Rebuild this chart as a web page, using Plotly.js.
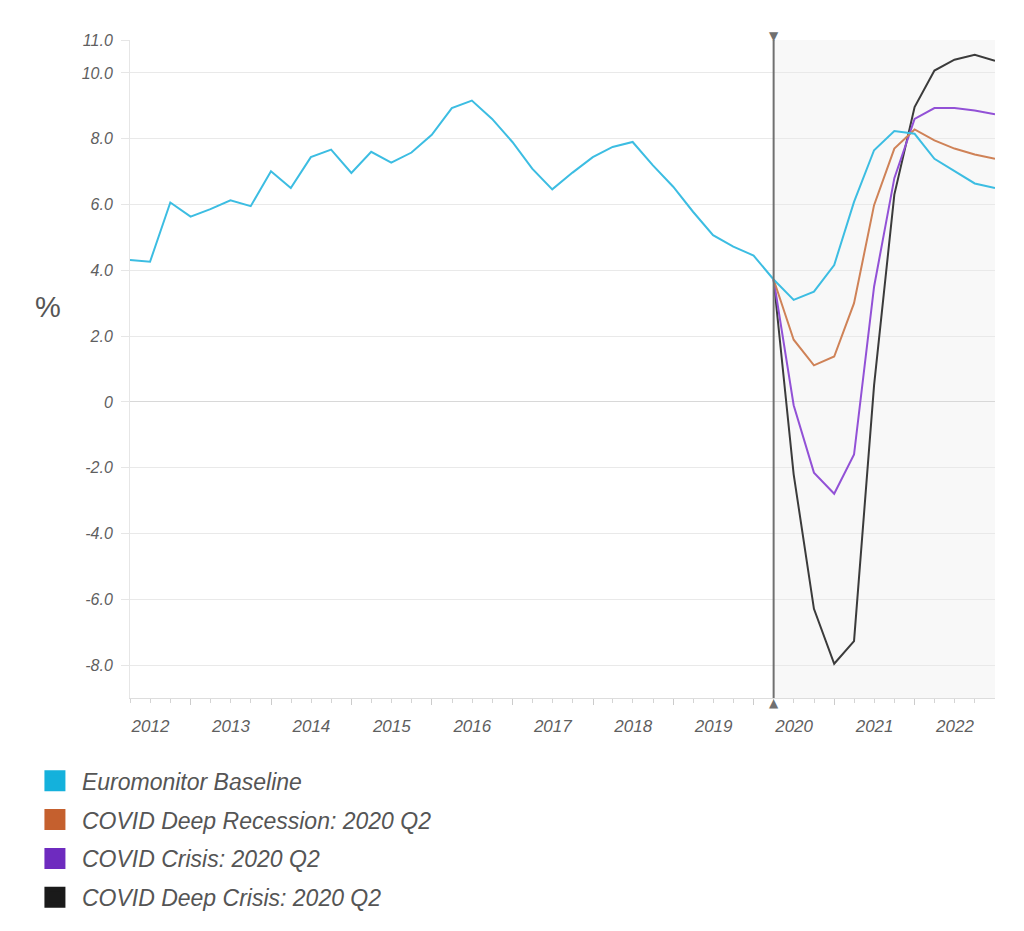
<!DOCTYPE html>
<html>
<head>
<meta charset="utf-8">
<script src="https://cdn.plot.ly/plotly-3.0.1.min.js"></script>
<style>
  html, body { margin: 0; padding: 0; background: #ffffff; }
  #chart { width: 1024px; height: 931px; }
</style>
</head>
<body>
<div id="chart"></div>
<script>
// Quarter-end dates, 2012 Q1 .. 2022 Q4
const quarters = [
  '2012-03-31','2012-06-30','2012-09-30','2012-12-31',
  '2013-03-31','2013-06-30','2013-09-30','2013-12-31',
  '2014-03-31','2014-06-30','2014-09-30','2014-12-31',
  '2015-03-31','2015-06-30','2015-09-30','2015-12-31',
  '2016-03-31','2016-06-30','2016-09-30','2016-12-31',
  '2017-03-31','2017-06-30','2017-09-30','2017-12-31',
  '2018-03-31','2018-06-30','2018-09-30','2018-12-31',
  '2019-03-31','2019-06-30','2019-09-30','2019-12-31',
  '2020-03-31','2020-06-30','2020-09-30','2020-12-31',
  '2021-03-31','2021-06-30','2021-09-30','2021-12-31',
  '2022-03-31','2022-06-30','2022-09-30','2022-12-31'
];

const baseline = [
  4.31, 4.26, 6.06, 5.63,
  5.86, 6.13, 5.95, 7.01,
  6.50, 7.44, 7.67, 6.96,
  7.60, 7.27, 7.58, 8.12,
  8.93, 9.16, 8.60, 7.90,
  7.09, 6.46, 6.97, 7.44,
  7.75, 7.90, 7.19, 6.54,
  5.78, 5.07, 4.72, 4.45,
  3.72, 3.10, 3.35, 4.16,
  6.08, 7.65, 8.23, 8.15,
  7.39, 7.01, 6.64, 6.50
];

// Scenarios start at the last actual quarter (2020 Q1)
const forecastStartIndex = 32;
const deepRecession = [3.72, 1.89, 1.11, 1.38, 3.00, 5.98, 7.70, 8.28, 7.95, 7.70, 7.52, 7.39];
const crisis        = [3.72, -0.10, -2.15, -2.79, -1.60, 3.50, 6.80, 8.60, 8.93, 8.93, 8.86, 8.74];
const deepCrisis    = [3.72, -2.20, -6.29, -7.96, -7.27, 0.50, 6.30, 8.96, 10.07, 10.40, 10.55, 10.37];

const seriesNames = [
  'Euromonitor Baseline',
  'COVID Deep Recession: 2020 Q2',
  'COVID Crisis: 2020 Q2',
  'COVID Deep Crisis: 2020 Q2'
];
const lineColors   = ['#3CBDE2', '#CF8257', '#9251D6', '#3B3B3B'];
const swatchColors = ['#14B1DC', '#C5602E', '#6E2BBF', '#1A1A1A'];

const yTickVals  = [-8, -6, -4, -2, 0, 2, 4, 6, 8, 10, 11];
const yTickText  = ['-8.0', '-6.0', '-4.0', '-2.0', '0', '2.0', '4.0', '6.0', '8.0', '10.0', '11.0'];
const yRange = [-9, 11];

const fcX = quarters.slice(forecastStartIndex);
const forecastStart = quarters[forecastStartIndex];
const DIVIDER = '#707070';

const traces = [];
// scenario lines
[[deepCrisis, 3], [crisis, 2], [deepRecession, 1]].forEach(function (p) {
  traces.push({
    type: 'scatter', mode: 'lines', x: fcX, y: p[0],
    line: { color: lineColors[p[1]], width: 2 },
    showlegend: false, hoverinfo: 'skip'
  });
});
// baseline
traces.push({
  type: 'scatter', mode: 'lines', x: quarters, y: baseline,
  line: { color: lineColors[0], width: 2 },
  showlegend: false, hoverinfo: 'skip'
});
// legend entries (square swatches)
seriesNames.forEach(function (name, i) {
  traces.push({
    type: 'scatter', mode: 'markers', x: [null], y: [null], name: name,
    legendgroup: 'g' + i,
    marker: { symbol: 'square', size: 16, color: swatchColors[i],
              line: { color: swatchColors[i], width: 5 } },
    hoverinfo: 'skip'
  });
});

const FONT = 'Liberation Sans, Arial, Helvetica, sans-serif';

const layout = {
  width: 1024, height: 931,
  margin: { l: 130, r: 29, t: 40, b: 231 },
  paper_bgcolor: '#ffffff',
  plot_bgcolor: '#ffffff',
  font: { family: FONT, color: '#606060' },
  showlegend: true,
  xaxis: {
    type: 'date',
    range: [quarters[0], quarters[quarters.length - 1]],
    tick0: '2012-01-01', dtick: 'M12',
    ticklabelmode: 'period', tickformat: '%Y',
    ticks: 'outside', ticklen: 6, tickcolor: '#cccccc',
    ticklabelstandoff: 7,
    minor: { dtick: 'M3', tick0: '2012-01-01', ticks: 'outside', ticklen: 4,
             tickcolor: '#d4d4d4', showgrid: false },
    showgrid: false, zeroline: false,
    showline: true, linecolor: '#dddddd', linewidth: 1,
    tickfont: { family: FONT, size: 17, style: 'italic', color: '#5f5f5f' },
    fixedrange: true
  },
  yaxis: {
    range: yRange,
    tickmode: 'array', tickvals: yTickVals, ticktext: yTickText,
    ticks: 'outside', ticklen: 8, tickcolor: '#e6e6e6',
    ticklabelstandoff: 5,
    showgrid: true, gridcolor: '#e9e9e9', gridwidth: 1,
    zeroline: true, zerolinecolor: '#d8d8d8', zerolinewidth: 1,
    showline: true, linecolor: '#e6e6e6', linewidth: 1,
    tickfont: { family: FONT, size: 16, style: 'italic', color: '#5f5f5f' },
    fixedrange: true
  },
  legend: {
    orientation: 'v',
    x: -0.118, xanchor: 'left',
    y: -0.093, yanchor: 'top',
    bgcolor: 'rgba(0,0,0,0)',
    itemwidth: 44,
    tracegroupgap: 6,
    font: { family: FONT, size: 23, style: 'italic', color: '#555555' }
  },
  shapes: [{
    type: 'rect', xref: 'x', yref: 'paper',
    x0: forecastStart, x1: quarters[quarters.length - 1], y0: 0, y1: 1,
    fillcolor: '#f8f8f8', line: { width: 0 }, layer: 'below'
  }, {
    type: 'line', xref: 'x', yref: 'paper',
    x0: forecastStart, x1: forecastStart, y0: 0, y1: 1,
    line: { color: DIVIDER, width: 2 }, layer: 'above'
  }],
  annotations: [{
    text: '%', xref: 'paper', yref: 'paper',
    x: -0.095, y: 0.594, xanchor: 'center', yanchor: 'middle',
    showarrow: false,
    font: { family: FONT, size: 29, color: '#555555' }
  }, {
    text: '\u25BC', xref: 'x', yref: 'paper',
    x: forecastStart, y: 1, xanchor: 'center', yanchor: 'middle',
    yshift: 4, showarrow: false,
    font: { family: 'DejaVu Sans', size: 12, color: DIVIDER }
  }, {
    text: '\u25B2', xref: 'x', yref: 'paper',
    x: forecastStart, y: 0, xanchor: 'center', yanchor: 'middle',
    yshift: -5, showarrow: false,
    font: { family: 'DejaVu Sans', size: 12, color: DIVIDER }
  }]
};

Plotly.newPlot('chart', traces, layout, { displayModeBar: false, staticPlot: true });
</script>
</body>
</html>
